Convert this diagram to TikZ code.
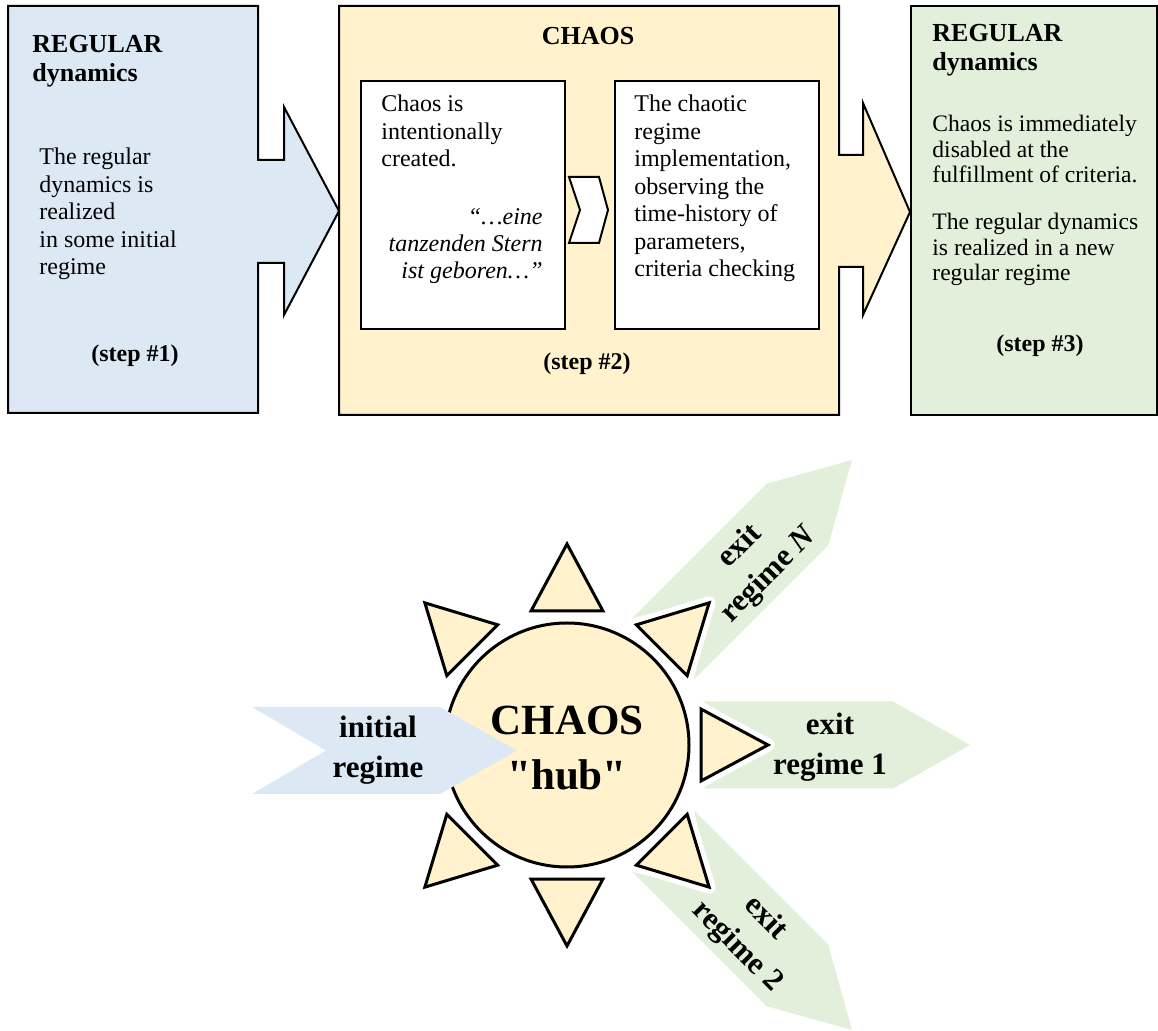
\documentclass[tikz,border=0pt]{standalone}
\usepackage{fontspec}
\setmainfont{Liberation Serif}
\usetikzlibrary{positioning}
\definecolor{regblue}{RGB}{221,232,245}
\definecolor{chaosfill}{RGB}{255,242,204}
\definecolor{reggreen}{RGB}{226,239,218}

\begin{document}
\begin{tikzpicture}[
x=0.5pt, y=-0.5pt,
stage/.style={
  draw=black,
  line width=1pt,
  line join=miter
  },
inner/.style={
  draw=black,
  line width=1pt,
  fill=white
  },
headline/.style={
  inner sep=0pt,
  align=left,
  font=\fontsize{13}{14.5}\selectfont\bfseries
  },
body/.style={
  inner sep=0pt,
  align=left,
  font=\fontsize{12}{13.75}\selectfont
  },
greenbody/.style={
  inner sep=0pt,
  align=left,
  font=\fontsize{11.8}{12.75}\selectfont
  },
quote/.style={
  inner sep=0pt,
  align=right,
  font=\fontsize{12}{13.5}\selectfont\itshape
  },
stepnote/.style={
  inner sep=0pt,
  font=\fontsize{12}{14}\selectfont\bfseries
  },
chev/.style={
  inner sep=0pt,
  align=center,
  font=\fontsize{15.5}{20}\selectfont\bfseries
  },
hubnode/.style={
  circle,
  draw=black,
  line width=1.5pt,
  fill=chaosfill,
  minimum size=122pt,
  inner sep=0pt
  },
ray/.style={
  fill=chaosfill,
  draw=black,
  line width=1.5pt,
  preaction={draw=white, line width=6.5pt, line join=round}
  }
]
\useasboundingbox (0,0) rectangle (1158,1031);

% step #2 : chaos
\draw[stage, fill=chaosfill] (339,6) -- (839,6) -- (839,155) -- (863,155) -- (863,103)
  -- (910,212) -- (863,315) -- (863,267) -- (839,267) -- (839,415) -- (339,415) -- cycle;
% step #1 : regular
\draw[stage, fill=regblue] (8,6) -- (258,6) -- (258,160) -- (284,160) -- (284,107)
  -- (339,211) -- (284,315) -- (284,263) -- (258,263) -- (258,413) -- (8,413) -- cycle;
% step #3 : regular again
\draw[stage, fill=reggreen] (911,6) rectangle (1157,415);

% (base = last line)
\node[headline, anchor=base west] (lefthead) at (32,82) {REGULAR\\dynamics};
\node[body, anchor=base west] (lefttext) at (39,275) {The regular\\dynamics is\\realized\\in some initial\\regime};
\node[stepnote, anchor=base] (step1) at (135,362) {(step \#1)};

\node[headline, anchor=base] (chaoshead) at (588,45) {CHAOS};
\node[inner, minimum width=102pt, minimum height=124pt, anchor=north west] (createbox) at (360,80) {};
\node[inner, minimum width=102pt, minimum height=124pt, anchor=north west] (implbox) at (614,80) {};
\draw[inner] (569,177) -- (599,177) -- (608,210) -- (599,243) -- (569,243) -- (580,210) -- cycle;
\node[body, anchor=base west] (createtxt) at (381,167) {Chaos is\\intentionally\\created.};
\node[quote, anchor=base east] (quotetxt) at (543,279) {“…eine\\tanzenden Stern\\ist geboren…”};
\node[body, anchor=base west] (impltxt) at (634,277) {The chaotic\\regime\\implementation,\\observing the\\time-history of\\parameters,\\criteria checking};
\node[stepnote, anchor=base] (step2) at (587,370) {(step \#2)};

\node[headline, anchor=base west] (righthead) at (932,71) {REGULAR\\dynamics};
\node[greenbody, anchor=base west] (disabletxt) at (932,183) {Chaos is immediately\\disabled at the\\fulfillment of criteria.};
\node[greenbody, anchor=base west] (newtxt) at (932,281) {The regular dynamics\\is realized in a new\\regular regime};
\node[stepnote, anchor=base] (step3) at (1040,352) {(step \#3)};

% the hub
\begin{scope}[shift={(567,745)}, x=0.5pt, y=0.5pt]
\foreach \r/\lab [count=\i] in {0/{regime 1}, 45/{regime \textit{N}}, -45/{regime 2}}
{
  \begin{scope}[rotate=\r]
  \fill[reggreen] (136,43.5) -- (326,43.5) -- (403,0) -- (326,-43.5) -- (136,-43.5) -- (206,0) -- cycle;
  \node[chev, anchor=base, transform shape] (exit\i) at (263,-30) {exit\\\lab};
  \end{scope}
}
\node[hubnode] (hub) at (0,0) {};
\fill[regblue] (-315,38) -- (-127,38) -- (-50,-5.5) -- (-127,-49) -- (-315,-49) -- (-241,-5.5) -- cycle;
\node[chev, anchor=base] (init) at (-189,-33) {initial\\regime};
\foreach \a in {90,45,0,-45,-90,-135,135}
  \draw[ray] (\a:201) -- (\a+15:138.8) -- (\a-15:138.8) -- cycle;
\node[chev, anchor=base, font=\fontsize{21.5}{27.5}\selectfont\bfseries\addfontfeatures{Ligatures=TeXOff}] (hubtxt) at (0,-45) {CHAOS\\"hub"};
\end{scope}
\end{tikzpicture}
\end{document}
